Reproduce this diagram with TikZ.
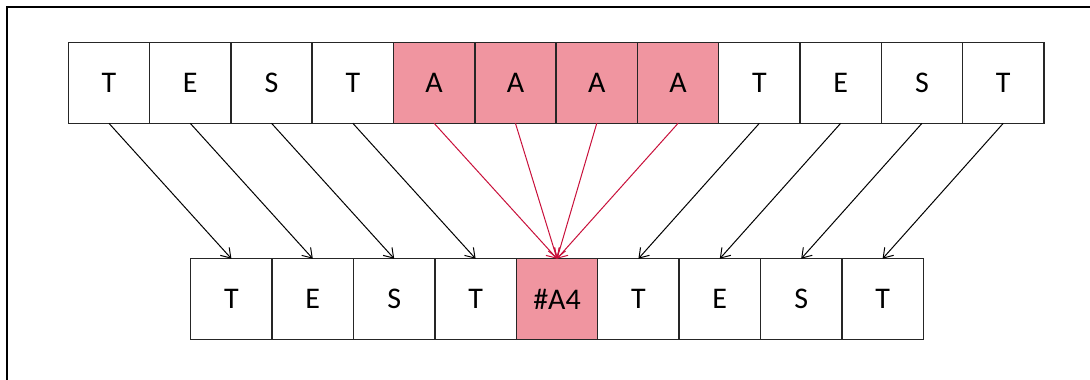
\documentclass[tikz,border=0pt]{standalone}
\usepackage{fontspec}
\setmainfont{Carlito}
\usetikzlibrary{arrows.meta}
\definecolor{hl}{RGB}{240,149,160}
\definecolor{hlline}{RGB}{200,16,58}
\begin{document}
\begin{tikzpicture}[x=1pt,y=-1pt,
  cell/.style={draw=black!85, line width=1.5pt, minimum width=81.3pt, minimum height=81pt,
    inner sep=0pt, outer sep=0pt, font=\fontsize{30}{30}\selectfont, anchor=north west},
  hot/.style={fill=hl},
  link/.style={draw=black, line width=1pt, -{Straight Barb[length=9pt,width=12pt]}},
  hotlink/.style={link, draw=hlline}]
\useasboundingbox (0,0) rectangle (1090,380);
% outer frame
\begin{scope}
\clip (0,0) rectangle (1090,380);
\draw[line width=1.5pt] (7,7) rectangle (1110,400);
\end{scope}
% input string
\foreach \t [count=\i] in {T,E,S,T,A,A,A,A,T,E,S,T}{
  \ifnum\i>4 \ifnum\i<9
    \node[cell,hot] (a\i) at ({68.3+(\i-1)*81.3},42.3) {\t};
  \else
    \node[cell] (a\i) at ({68.3+(\i-1)*81.3},42.3) {\t};
  \fi\else
    \node[cell] (a\i) at ({68.3+(\i-1)*81.3},42.3) {\t};
  \fi
}
% compressed string
\foreach \t [count=\i] in {T,E,S,T,\#A4,T,E,S,T}{
  \ifnum\i=5
    \node[cell,hot,minimum width=81.4pt] (b\i) at ({190.7+(\i-1)*81.4},258.7) {\t};
  \else
    \node[cell,minimum width=81.4pt] (b\i) at ({190.7+(\i-1)*81.4},258.7) {\t};
  \fi
}
% mappings
\foreach \i/\j in {1/1,2/2,3/3,4/4,9/6,10/7,11/8,12/9}
  \draw[link] (a\i.south) -- (b\j.north);
\foreach \i in {5,6,7,8}
  \draw[hotlink] (a\i.south) -- (b5.north);
\end{tikzpicture}
\end{document}
